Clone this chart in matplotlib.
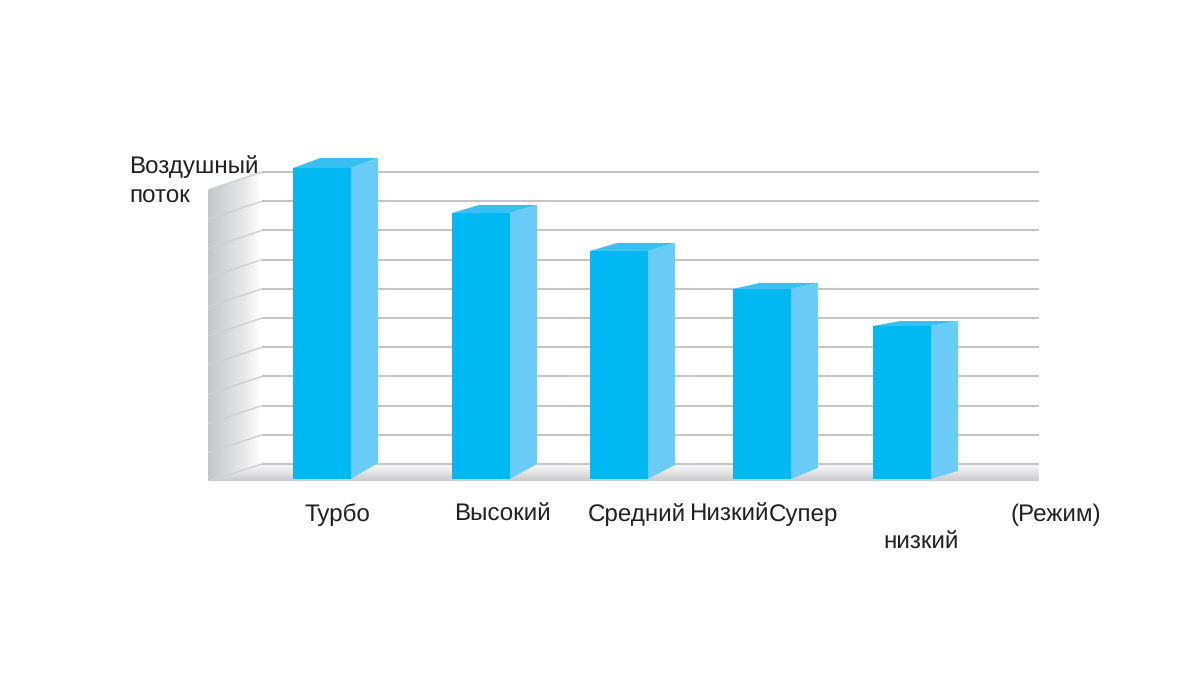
import numpy as np
import matplotlib
matplotlib.use("Agg")
import matplotlib.pyplot as plt
from matplotlib.colors import LinearSegmentedColormap
from matplotlib.patches import Polygon

plt.rcParams['font.family'] = ['Liberation Sans', 'DejaVu Sans']
plt.rcParams['text.hinting'] = 'no_hinting'

# bar heights in grid steps
modes = ["Турбо", "Высокий", "Средний", "Низкий", "Супер"]
airflow = [10.65, 9.11, 7.81, 6.51, 5.24]
grid_levels = list(range(11))

# the axes is the whole figure, one x unit is one pixel
PX = 29.2  # pixels for one grid step
BASE = 479  # pixel row of the front of the floor
bar_x = [322, 481, 619, 762, 902]
bar_w = 58
depth = 27
top_rise = [10, 8, 8, 6, 5]
bottom_rise = [16, 15, 14, 11, 8]

fig = plt.figure(figsize=(12, 6.75), dpi=100)
ax = fig.add_axes([0, 0, 1, 1])
ax.set_xlim(0, 1200)
ax.set_ylim(-(675 - BASE) / PX, BASE / PX)
ax.axis("off")


def up(px):
    return px / PX


grey_wall = LinearSegmentedColormap.from_list("wall", ["#c6c7c9", "#d6d7d8", "#e8e8e9", "#ffffff"])
grey_floor = LinearSegmentedColormap.from_list("floor", ["#fbfbfb", "#e4e4e5", "#c9cacc"])

wall_left, wall_right = 208, 262
back = up(15)  # the back of the floor sits above the front

# side wall
wall = Polygon([(wall_left, up(-2)), (wall_right, back), (wall_right, back + 10),
                (wall_left, up(-2) + 9.95)], closed=True, fc="none", ec="none")
ax.add_patch(wall)
im = ax.imshow(np.linspace(0, 1, 64).reshape(1, -1), cmap=grey_wall, aspect="auto",
               extent=(wall_left, wall_right, -1, 12), zorder=1)
im.set_clip_path(wall)

# floor
floor = Polygon([(wall_left, up(-2)), (wall_right, back), (1039, back), (1039, up(-2))],
                closed=True, fc="none", ec="none")
ax.add_patch(floor)
im2 = ax.imshow(np.linspace(0, 1, 64).reshape(-1, 1), cmap=grey_floor, aspect="auto",
                extent=(wall_left, 1039, up(-2), back), origin="upper", zorder=1)
im2.set_clip_path(floor)

# grid lines, back part and the slanted part on the wall
for level in grid_levels:
    y = back + level
    ax.plot([wall_right, 1039], [y, y], color="#c4c5c7", lw=1.5, zorder=2,
            solid_capstyle="butt")
    start = wall_left + 8 if level == 0 else wall_left
    rise = 15 if level == 0 else 18
    ax.plot([start, wall_right], [y - up(rise), y], color="#cfd0d2", lw=1.1, zorder=2,
            solid_capstyle="butt")

ax.set_xlim(0, 1200)
ax.set_ylim(-(675 - BASE) / PX, BASE / PX)

# bars
ax.bar(bar_x, airflow, width=bar_w, color="#00b9f2", zorder=4)
for x, h, tr, br in zip(bar_x, airflow, top_rise, bottom_rise):
    left = x - bar_w / 2
    right = x + bar_w / 2
    side = [(right, 0), (right + depth, up(br)), (right + depth, h + up(tr)), (right, h)]
    top = [(left, h), (left + depth, h + up(tr)), (right + depth, h + up(tr)), (right, h)]
    ax.add_patch(Polygon(side, closed=True, fc="#6accf6", ec="none", zorder=4))
    ax.add_patch(Polygon(top, closed=True, fc="#38c0f2", ec="none", zorder=4))

# labels, placed on their baselines
size = 17.4
ink = "#231f20"
label_y = up(479 - 521)
for x, name in zip([337, 502, 637, 728.5, 803], modes):
    ax.text(x, label_y, name, ha="center", va="baseline", fontsize=size, color=ink)
ax.text(921.5, up(479 - 549), "низкий", ha="center", va="baseline", fontsize=size, color=ink)
ax.text(1055.5, label_y, "(Режим)", ha="center", va="baseline", fontsize=size, color=ink)
ax.text(129, up(479 - 173), "Воздушный", ha="left", va="baseline", fontsize=size, color=ink)
ax.text(129, up(479 - 203), "поток", ha="left", va="baseline", fontsize=size, color=ink)

fig.savefig("out.png", dpi=100)
